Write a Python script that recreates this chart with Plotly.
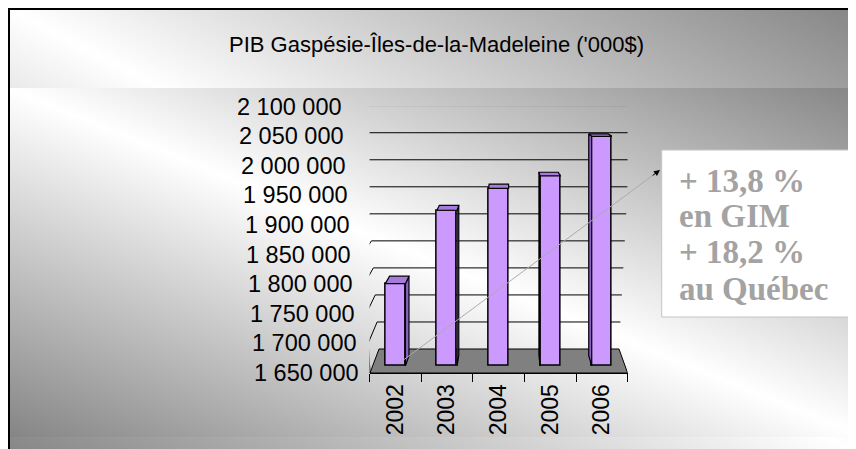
import base64
import plotly.graph_objects as go

# ---------------- data ----------------
years = ["2002", "2003", "2004", "2005", "2006"]
pib = [1801000, 1925000, 1962000, 1983000, 2050000]
y_ticks = [1650000, 1700000, 1750000, 1800000, 1850000,
           1900000, 1950000, 2000000, 2050000, 2100000]
title_text = "PIB Gaspésie-Îles-de-la-Madeleine ('000$)"
callout_lines = ["+ 13,8 %", "en GIM", "+ 18,2 %", "au Québec"]

# ---------------- geometry (page pixels) ----------------
W, H = 856, 449
OFF = 8.0                            # page body margin of the html page
X0_PX, X_STEP = 395.4, 51.6          # pixel of first category, spacing
Y_MIN, Y_MAX = 1650000, 2100000
FRONT_BOT, FRONT_TOP = 373.0, 106.7  # front plane (axis labels)
BACK_BOT, BACK_TOP = 349.0, 105.7    # back wall
BAR_BASE = 1662000
BAR_W = 0.39
VP = (506.0, 70.0)                   # depth vanishing point (pixels)
K_BAR = 0.035


def fx(px):
    return (px - OFF) / W


def fy(py):
    return 1 - (py - OFF) / H


def x2px(x):
    return X0_PX + x * X_STEP


def px2x(px):
    return (px - X0_PX) / X_STEP


def y2py(v):
    return FRONT_BOT - (v - Y_MIN) * (FRONT_BOT - FRONT_TOP) / (Y_MAX - Y_MIN)


def py2y(py):
    return Y_MIN + (FRONT_BOT - py) * (Y_MAX - Y_MIN) / (FRONT_BOT - FRONT_TOP)


def back_py(v):
    return BACK_BOT - (v - Y_MIN) * (BACK_BOT - BACK_TOP) / (Y_MAX - Y_MIN)


def front_axis_px(py):
    return 370.0 - (FRONT_BOT - py) * 17.0 / (FRONT_BOT - FRONT_TOP)


def back_left_px(py):
    return 379.0 - (BACK_BOT - py) * 17.0 / (BACK_BOT - BACK_TOP)


def back_right_px(py):
    return 619.0 + (BACK_BOT - py) * 13.0 / (BACK_BOT - BACK_TOP)


def pt(px, py):
    return px2x(px), py2y(py)


def path(points):
    return "M " + " L ".join(f"{px2x(a):.5f},{py2y(b):.2f}" for a, b in points) + " Z"


# ---------------- background gradients ----------------
svg = ("<svg xmlns='http://www.w3.org/2000/svg' width='100' height='100' "
       "viewBox='0 0 100 100' preserveAspectRatio='none'><defs>"
       "<linearGradient id='g' x1='0' y1='1' x2='1' y2='0'>"
       "<stop offset='0' stop-color='#858585'/>"
       "<stop offset='0.5' stop-color='#ffffff'/>"
       "<stop offset='1' stop-color='#858585'/>"
       "</linearGradient></defs>"
       "<rect width='100' height='100' fill='url(#g)'/></svg>")
grad_src = "data:image/svg+xml;base64," + base64.b64encode(svg.encode()).decode()

images = [
    dict(source=grad_src, xref="paper", yref="paper", x=0, y=1,
         sizex=1, sizey=1, xanchor="left", yanchor="top",
         sizing="stretch", layer="below"),
    dict(source=grad_src, xref="paper", yref="paper", x=0, y=fy(88),
         sizex=1, sizey=(437 - 88) / H, xanchor="left", yanchor="top",
         sizing="stretch", layer="below"),
]

shapes = []
# floor
shapes.append(dict(type="path", xref="x", yref="y", layer="below",
                   path=path([(370, FRONT_BOT), (627.6, FRONT_BOT),
                              (619, BACK_BOT), (379, BACK_BOT)]),
                   fillcolor="#808080", line=dict(color="black", width=1)))
# back wall gridlines, side-wall connectors, y ticks
for v in y_ticks:
    pyb = back_py(v)
    pyf = y2py(v)
    xf_px = front_axis_px(pyf)
    if v != Y_MIN:
        xa, ya = pt(back_left_px(pyb), pyb)
        xb, yb = pt(back_right_px(pyb), pyb)
        shapes.append(dict(type="line", xref="x", yref="y", layer="below",
                           x0=xa, y0=ya, x1=xb, y1=yb,
                           line=dict(color="black", width=1)))
        shapes.append(dict(type="line", xref="x", yref="y", layer="below",
                           x0=px2x(xf_px), y0=v, x1=xa, y1=ya,
                           line=dict(color="black", width=1)))
    shapes.append(dict(type="line", xref="x", yref="y", layer="below",
                       x0=px2x(xf_px - 6), y0=v, x1=px2x(xf_px), y1=v,
                       line=dict(color="black", width=1)))
# slanted y axis line
shapes.append(dict(type="line", xref="x", yref="y", layer="below",
                   x0=px2x(front_axis_px(y2py(Y_MIN))), y0=Y_MIN,
                   x1=px2x(front_axis_px(y2py(Y_MAX))), y1=Y_MAX,
                   line=dict(color="black", width=1.2)))
# callout box
shapes.append(dict(type="rect", xref="paper", yref="paper",
                   x0=fx(661.7), x1=fx(853), y0=fy(317), y1=fy(150),
                   fillcolor="white", line=dict(color="#C4C4C4", width=1),
                   layer="above"))
# outer border (top / left)
shapes.append(dict(type="rect", xref="paper", yref="paper",
                   x0=1 / W, x1=1.02, y0=-0.02, y1=1 - 1 / H,
                   line=dict(color="black", width=2), layer="above"))

fig = go.Figure()

# front faces of the columns
fig.add_trace(go.Bar(x=list(range(len(years))), y=[v - BAR_BASE for v in pib],
                     base=BAR_BASE, width=BAR_W,
                     marker=dict(color="#CC99FF", line=dict(color="black", width=1.5)),
                     hoverinfo="skip", showlegend=False))

# side and top faces
side_x, side_y, top_x, top_y = [], [], [], []
for i, v in enumerate(pib):
    cx = x2px(i)
    L, R = cx - BAR_W * X_STEP / 2, cx + BAR_W * X_STEP / 2
    T, B = y2py(v), y2py(BAR_BASE)

    def off(p):
        return (p[0] + K_BAR * (VP[0] - p[0]), p[1] + K_BAR * (VP[1] - p[1]))

    for a, b in [(L, T), (R, T), off((R, T)), off((L, T)), (L, T)]:
        xx, yy = pt(a, b)
        top_x.append(xx)
        top_y.append(yy)
    top_x.append(None)
    top_y.append(None)
    edge = R if VP[0] > R else (L if VP[0] < L else None)
    if edge is not None:
        for a, b in [(edge, T), (edge, B), off((edge, B)), off((edge, T)), (edge, T)]:
            xx, yy = pt(a, b)
            side_x.append(xx)
            side_y.append(yy)
        side_x.append(None)
        side_y.append(None)

fig.add_trace(go.Scatter(x=side_x, y=side_y, mode="lines", fill="toself",
                         fillcolor="#8A62C4", line=dict(color="black", width=1.2),
                         hoverinfo="skip", showlegend=False))
fig.add_trace(go.Scatter(x=top_x, y=top_y, mode="lines", fill="toself",
                         fillcolor="#A77BDD", line=dict(color="black", width=1.2),
                         hoverinfo="skip", showlegend=False))

annotations = []
# y tick labels along the slanted axis
for v in y_ticks:
    lab = f"{v:,}".replace(",", " ")
    annotations.append(dict(text=lab, xref="paper", yref="y",
                            x=fx(front_axis_px(y2py(v)) - 9), y=v,
                            xanchor="right", yanchor="middle", showarrow=False,
                            font=dict(family="Liberation Sans", size=23.5, color="black")))
# title
annotations.append(dict(text=title_text, xref="paper", yref="paper",
                        x=fx(436), y=fy(44), xanchor="center", yanchor="middle",
                        showarrow=False,
                        font=dict(family="Liberation Sans", size=22, color="black")))
# arrow (light line + dark head)
TIP = (660.0, 170.0)
TAIL = (396.7, 365.0)
annotations.append(dict(text="", xref="paper", yref="paper",
                        x=fx(TIP[0]), y=fy(TIP[1]),
                        ax=TAIL[0] - TIP[0], ay=TAIL[1] - TIP[1],
                        showarrow=True, arrowhead=0, arrowwidth=1,
                        arrowcolor="#ABABAB"))
dxu = TAIL[0] - TIP[0]
dyu = TAIL[1] - TIP[1]
nrm = (dxu ** 2 + dyu ** 2) ** 0.5
annotations.append(dict(text="", xref="paper", yref="paper",
                        x=fx(TIP[0]), y=fy(TIP[1]),
                        ax=dxu / nrm * 11, ay=dyu / nrm * 11,
                        showarrow=True, arrowhead=2, arrowsize=1.2, arrowwidth=1,
                        arrowcolor="black"))
# callout text
for line, yc in zip(callout_lines, [180.7, 216.0, 251.7, 289.0]):
    annotations.append(dict(text=line, xref="paper", yref="paper",
                            x=fx(677), y=fy(yc), xanchor="left", yanchor="middle",
                            showarrow=False,
                            font=dict(family="Liberation Serif", size=33,
                                      color="#A3A3A3", weight="bold")))

fig.update_layout(
    width=W, height=H, margin=dict(l=0, r=0, t=0, b=0),
    paper_bgcolor="white", plot_bgcolor="rgba(0,0,0,0)",
    images=images, shapes=shapes, annotations=annotations,
    showlegend=False, bargap=0,
    xaxis=dict(domain=[fx(X0_PX - 0.5 * X_STEP), fx(X0_PX + 4.5 * X_STEP)],
               range=[-0.5, 4.5], tickmode="array",
               tickvals=list(range(len(years))), ticktext=years,
               tickangle=-90, ticks="", ticklabelstandoff=1,
               tickfont=dict(family="Liberation Sans", size=23, color="black"),
               showline=True, linecolor="black", linewidth=1,
               showgrid=False, zeroline=False, fixedrange=True,
               minor=dict(tickmode="array",
                          tickvals=[-0.5, 0.5, 1.5, 2.5, 3.5, 4.5],
                          ticks="outside", ticklen=8, tickcolor="black",
                          tickwidth=1, showgrid=False)),
    yaxis=dict(domain=[fy(FRONT_BOT), fy(FRONT_TOP)],
               range=[Y_MIN, Y_MAX], visible=False, fixedrange=True),
)

fig.write_html("out.html")
